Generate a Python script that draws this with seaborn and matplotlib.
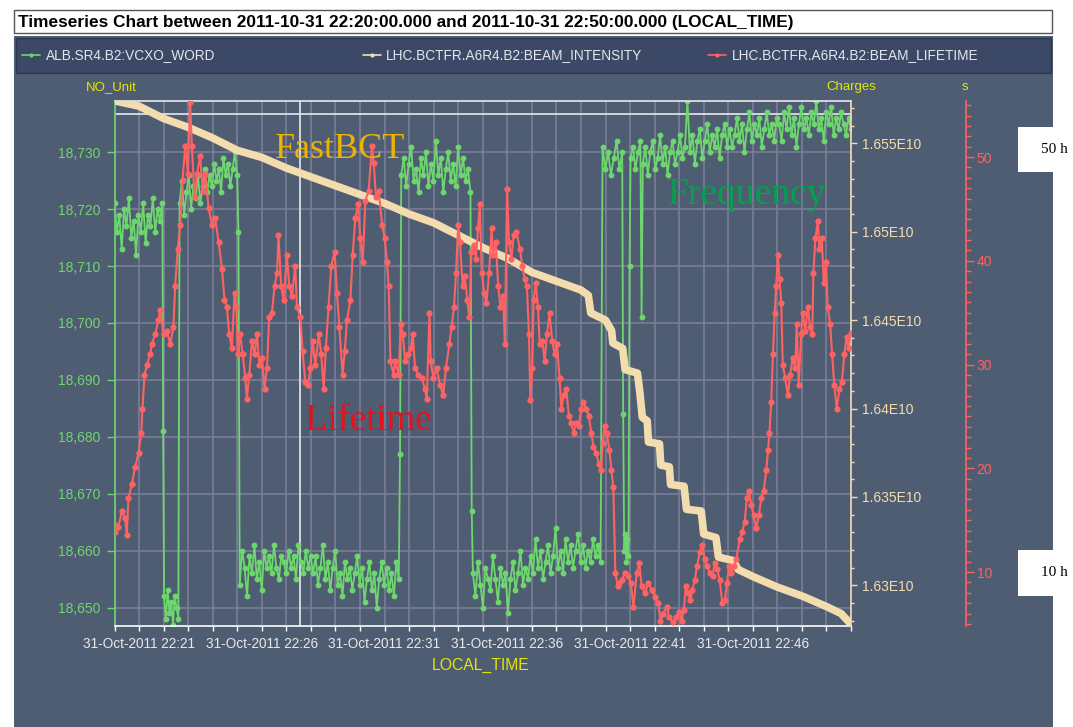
import numpy as np
import matplotlib
matplotlib.use("Agg")
import matplotlib.pyplot as plt
import seaborn as sns
from matplotlib.patches import Rectangle
from matplotlib.lines import Line2D
from matplotlib.ticker import FixedLocator, MultipleLocator, FuncFormatter

W, H = 1073, 727

# ---------------- data: time in minutes after 31-Oct-2011 22:20:00 ----------------

# ALB.SR4.B2:VCXO_WORD, logged in stretches (start, end) with the values read in each
vcxo_a = [18721, 18716, 18719, 18713, 18720, 18717, 18722, 18715, 18718, 18712, 18719,
          18716, 18721, 18714, 18719, 18717, 18722, 18716, 18720, 18718, 18721]
vcxo_b = [18681]
vcxo_c = [18652, 18648, 18653, 18649, 18651, 18647, 18652, 18650, 18648]
vcxo_d = [18721, 18725, 18719, 18723, 18726, 18720, 18724, 18722, 18726, 18721, 18724,
          18727, 18723, 18726, 18724, 18728, 18725, 18727, 18723, 18729, 18726, 18728,
          18724, 18727, 18730, 18726]
vcxo_e = [18716]
vcxo_f = [18654, 18660, 18657, 18652, 18659, 18656, 18661, 18655, 18658, 18653, 18660,
          18657, 18659, 18656, 18661, 18657, 18655, 18659, 18658, 18656, 18660, 18657,
          18659, 18655, 18661, 18658, 18656, 18660, 18657, 18659, 18656, 18659, 18654,
          18657, 18661, 18655, 18658, 18653, 18657, 18660, 18654, 18656, 18652, 18658,
          18655, 18657, 18653, 18656, 18659, 18654, 18657, 18651, 18655, 18658, 18653,
          18656, 18650, 18655, 18658, 18654, 18657, 18653, 18656, 18652, 18658, 18655]
vcxo_g = [18677]
vcxo_h = [18726, 18729, 18724, 18728, 18731, 18725, 18727, 18723, 18729, 18726, 18730,
          18724, 18728, 18725, 18732, 18726, 18729, 18723, 18727, 18730, 18725, 18728,
          18724, 18731, 18726, 18729, 18725, 18727, 18723]
vcxo_i = [18667]
vcxo_j = [18656, 18652, 18658, 18654, 18650, 18657, 18655, 18653, 18659, 18655, 18651,
          18657, 18654, 18656, 18649, 18655, 18658, 18653, 18656, 18660, 18654, 18657,
          18655, 18659, 18656, 18662, 18657, 18660, 18655, 18658, 18661, 18656, 18659,
          18664, 18657, 18660, 18656, 18662, 18658, 18661, 18657, 18660, 18663, 18658,
          18661, 18657, 18660, 18658, 18662, 18659, 18661, 18658]
vcxo_k = [18731, 18727, 18730, 18726, 18729, 18732, 18727, 18730]
vcxo_l = [18684, 18660, 18663, 18658, 18662, 18659, 18710]
vcxo_m = [18729, 18731, 18727, 18730, 18732]
vcxo_n = [18701]
vcxo_o = [18728, 18731, 18726, 18730, 18732, 18727, 18729, 18733, 18728, 18731, 18726,
          18730, 18732, 18728, 18730, 18733, 18729, 18731, 18739, 18730, 18733, 18728,
          18732, 18734, 18729, 18732, 18735, 18730, 18733, 18731, 18734, 18729, 18733,
          18735, 18731, 18734, 18731, 18733, 18736, 18732, 18735, 18730, 18734, 18737,
          18732, 18735, 18733, 18736, 18731, 18734, 18737, 18733, 18735, 18732, 18736,
          18735, 18732, 18737, 18734, 18738, 18733, 18736, 18731, 18735, 18738, 18734,
          18736, 18733, 18737, 18735, 18739, 18734, 18736, 18732, 18737, 18735, 18738,
          18733, 18736, 18734, 18737, 18735, 18733, 18736, 18734]
vcxo_spans = [(0.0, 1.95, vcxo_a), (1.98, 1.98, vcxo_b), (2.02, 2.60, vcxo_c),
              (2.65, 5.00, vcxo_d), (5.05, 5.05, vcxo_e), (5.10, 11.58, vcxo_f),
              (11.63, 11.63, vcxo_g), (11.68, 14.50, vcxo_h), (14.55, 14.55, vcxo_i),
              (14.60, 19.80, vcxo_j), (19.88, 20.68, vcxo_k), (20.72, 20.98, vcxo_l),
              (21.02, 21.42, vcxo_m), (21.47, 21.47, vcxo_n), (21.52, 30.0, vcxo_o)]

# LHC.BCTFR.A6R4.B2:BEAM_INTENSITY (charges)
intensity_t = [0, 1, 2, 3, 4, 5, 6, 7, 8, 9,
               10, 11, 12, 13, 14, 15, 16, 17, 18, 19,
               19.3, 19.4, 20.0, 20.25, 20.3, 20.7, 20.8, 21.3, 21.4, 21.5,
               21.7, 21.75, 22.2, 22.25, 22.6, 22.65, 23.2, 23.3, 23.9, 24.0,
               24.5, 24.6, 25.2, 25.4, 26, 27, 28, 29, 29.6, 30]
intensity_v = [1.6574e10, 1.6571e10, 1.6564e10, 1.6559e10, 1.6553e10, 1.6546e10, 1.6542e10, 1.6536e10, 1.6531e10, 1.6526e10,
               1.6521e10, 1.6516e10, 1.6510e10, 1.6505e10, 1.6498e10, 1.6491e10, 1.6485e10, 1.6477e10, 1.6472e10, 1.6467e10,
               1.6464e10, 1.6454e10, 1.6450e10, 1.6444e10, 1.6437e10, 1.6434e10, 1.6422e10, 1.6420e10, 1.6409e10, 1.6395e10,
               1.6393e10, 1.6381e10, 1.6380e10, 1.6368e10, 1.6367e10, 1.6357e10, 1.6356e10, 1.6343e10, 1.6342e10, 1.6329e10,
               1.6327e10, 1.6316e10, 1.6314e10, 1.6309e10, 1.6305e10, 1.6299e10, 1.6294e10, 1.6288e10, 1.6284e10, 1.6278e10]

# LHC.BCTFR.A6R4.B2:BEAM_LIFETIME (hours)
lifetime_t = [0.00, 0.03, 0.16, 0.30, 0.43, 0.50, 0.57, 0.71, 0.84, 0.98,
              1.09, 1.14, 1.22, 1.32, 1.45, 1.52, 1.66, 1.79, 1.86, 2.00,
              2.13, 2.27, 2.40, 2.47, 2.58, 2.68, 2.77, 2.88, 2.99, 3.08,
              3.15, 3.26, 3.36, 3.49, 3.59, 3.70, 3.83, 3.97, 4.10, 4.24,
              4.38, 4.48, 4.58, 4.67, 4.78, 4.89, 4.96, 5.03, 5.12, 5.22,
              5.33, 5.39, 5.49, 5.60, 5.71, 5.80, 5.90, 6.01, 6.11, 6.21,
              6.30, 6.41, 6.52, 6.62, 6.68, 6.79, 6.89, 7.02, 7.12, 7.23,
              7.36, 7.43, 7.57, 7.66, 7.77, 7.88, 7.98, 8.07, 8.18, 8.32,
              8.42, 8.52, 8.61, 8.72, 8.83, 8.97, 9.06, 9.16, 9.29, 9.38,
              9.47, 9.61, 9.70, 9.81, 9.92, 10.01, 10.11, 10.22, 10.35, 10.49,
              10.56, 10.65, 10.76, 10.90, 11.01, 11.10, 11.17, 11.24, 11.37, 11.43,
              11.57, 11.66, 11.74, 11.84, 11.97, 12.07, 12.15, 12.24, 12.38, 12.51,
              12.65, 12.72, 12.83, 12.88, 12.99, 13.12, 13.26, 13.39, 13.50, 13.64,
              13.73, 13.83, 13.91, 14.00, 14.07, 14.18, 14.27, 14.37, 14.45, 14.54,
              14.64, 14.72, 14.81, 14.88, 14.96, 15.06, 15.15, 15.26, 15.36, 15.42,
              15.53, 15.63, 15.72, 15.83, 15.90, 15.99, 16.07, 16.17, 16.26, 16.37,
              16.51, 16.61, 16.71, 16.80, 16.88, 16.94, 17.02, 17.07, 17.16, 17.25,
              17.32, 17.43, 17.52, 17.62, 17.72, 17.83, 17.93, 18.02, 18.13, 18.20,
              18.29, 18.40, 18.51, 18.60, 18.70, 18.81, 18.91, 19.01, 19.10, 19.21,
              19.32, 19.42, 19.51, 19.62, 19.73, 19.82, 19.89, 19.96, 20.05, 20.16,
              20.24, 20.32, 20.40, 20.50, 20.57, 20.66, 20.80, 20.93, 21.03, 21.14,
              21.27, 21.38, 21.47, 21.61, 21.74, 21.88, 22.01, 22.15, 22.24, 22.35,
              22.49, 22.60, 22.73, 22.87, 23.00, 23.10, 23.19, 23.27, 23.38, 23.46,
              23.54, 23.64, 23.73, 23.84, 23.95, 24.04, 24.14, 24.25, 24.36, 24.45,
              24.55, 24.65, 24.76, 24.86, 24.95, 25.03, 25.13, 25.22, 25.33, 25.47,
              25.57, 25.67, 25.76, 25.84, 25.94, 26.03, 26.14, 26.25, 26.35, 26.44,
              26.55, 26.62, 26.68, 26.75, 26.82, 26.89, 26.95, 27.02, 27.09, 27.16,
              27.22, 27.32, 27.43, 27.52, 27.63, 27.73, 27.79, 27.87, 27.97, 28.04,
              28.14, 28.24, 28.33, 28.42, 28.47, 28.55, 28.65, 28.71, 28.81, 28.89,
              28.98, 29.05, 29.15, 29.23, 29.32, 29.42, 29.53, 29.63, 29.73, 29.82,
              29.90, 29.98]
lifetime_h = [14.53, 13.88, 14.37, 15.85, 15.19, 13.55, 17.17, 18.48, 20.13, 21.44,
              23.42, 25.72, 29.01, 29.99, 30.98, 31.97, 32.95, 34.27, 35.26, 32.95,
              33.28, 31.97, 33.61, 37.56, 41.18, 43.48, 47.75, 51.04, 48.41, 55.32,
              51.04, 46.11, 48.41, 50.06, 46.77, 48.41, 45.12, 43.48, 44.14, 41.83,
              39.20, 36.24, 35.58, 32.95, 31.64, 36.90, 35.58, 30.98, 32.95, 30.98,
              28.68, 26.70, 29.01, 32.30, 30.98, 32.95, 29.99, 30.65, 27.69, 29.66,
              34.60, 34.93, 37.56, 38.87, 42.49, 37.56, 36.24, 40.52, 37.56, 36.57,
              39.53, 35.58, 34.60, 31.31, 28.35, 28.02, 29.66, 32.30, 29.99, 32.95,
              30.98, 27.69, 31.64, 35.58, 39.53, 40.85, 36.90, 33.61, 29.01, 31.31,
              34.27, 36.24, 40.52, 44.14, 45.45, 42.16, 39.86, 45.78, 46.77, 51.04,
              49.40, 46.11, 46.77, 43.48, 42.16, 39.86, 37.56, 30.32, 29.01, 30.32,
              29.01, 33.94, 32.95, 30.32, 30.98, 31.64, 32.95, 29.66, 29.01, 28.68,
              27.69, 26.70, 34.93, 30.32, 28.68, 29.66, 28.02, 27.03, 29.66, 31.97,
              33.61, 35.58, 38.87, 43.48, 41.83, 37.56, 38.54, 36.24, 34.60, 40.85,
              41.50, 40.19, 43.15, 45.45, 38.87, 36.90, 35.91, 38.87, 43.15, 40.52,
              41.83, 37.56, 35.58, 36.57, 31.97, 46.93, 41.83, 40.19, 42.49, 42.82,
              41.18, 39.53, 38.22, 37.56, 32.95, 26.54, 29.66, 36.24, 37.89, 35.58,
              31.97, 32.30, 30.32, 32.95, 34.93, 32.30, 30.98, 31.97, 28.68, 25.72,
              27.03, 27.69, 25.06, 24.40, 23.42, 24.40, 24.07, 25.72, 26.37, 25.72,
              25.06, 23.42, 22.10, 21.44, 20.45, 19.80, 22.43, 24.07, 23.42, 21.77,
              19.80, 18.15, 9.93, 8.61, 8.94, 9.27, 9.93, 9.60, 8.94, 6.64,
              9.93, 10.92, 8.61, 7.96, 8.94, 8.29, 7.63, 6.97, 5.33, 5.99,
              6.64, 5.66, 5.16, 5.66, 6.15, 5.33, 6.31, 8.61, 7.96, 7.30,
              8.29, 9.27, 10.59, 11.90, 12.56, 11.25, 10.59, 9.93, 9.60, 10.92,
              10.26, 9.27, 6.97, 7.30, 8.94, 10.59, 9.93, 10.59, 11.25, 13.22,
              13.88, 14.86, 17.17, 17.82, 16.51, 15.52, 14.21, 15.52, 17.17, 17.82,
              19.80, 21.77, 23.42, 26.37, 30.98, 34.93, 37.56, 40.52, 38.22, 35.91,
              29.99, 28.68, 27.03, 29.01, 30.65, 29.66, 33.94, 28.02, 32.95, 34.93,
              33.28, 35.58, 33.61, 32.95, 38.87, 42.16, 43.81, 41.18, 42.16, 37.89,
              39.86, 35.58, 33.94, 30.98, 28.02, 25.72, 27.69, 28.35, 30.98, 32.62,
              31.64, 33.00]

x_label_minutes = [1, 6, 11, 16, 21, 26]
legend_names = ["ALB.SR4.B2:VCXO_WORD", "LHC.BCTFR.A6R4.B2:BEAM_INTENSITY",
                "LHC.BCTFR.A6R4.B2:BEAM_LIFETIME"]

# ---------------- style ----------------
sns.set_style("ticks")
plt.rcParams['font.family'] = ['Liberation Sans', 'DejaVu Sans']

GREEN = '#6ed66e'
BEIGE = '#f3dcae'
RED = '#ff6262'
PANEL = '#4f5d72'
STRIP = '#3c4966'
GRID = '#7e7f9d'
YELLOW = '#e6e600'


def fx(px):
    return px / W


def fy(py):
    return 1 - py / H


vcxo_t, vcxo_v = [], []
for t0, t1, vals in vcxo_spans:
    vcxo_t += list(np.linspace(t0, t1, len(vals)))
    vcxo_v += list(vals)

fig = plt.figure(figsize=(W / 100, H / 100), dpi=100)
fig.patch.set_facecolor('white')

# frames: title box, dark panel, legend strip (behind the axes)
fig.patches.append(Rectangle((fx(14), fy(33)), fx(1052) - fx(14), fy(10) - fy(33),
                             transform=fig.transFigure, facecolor='white',
                             edgecolor='#555555', lw=1, zorder=-5))
fig.patches.append(Rectangle((fx(14), 0), fx(1053) - fx(14), fy(36),
                             transform=fig.transFigure, facecolor=PANEL,
                             edgecolor='none', zorder=-5))
fig.patches.append(Rectangle((fx(16), fy(73)), fx(1051) - fx(16), fy(38) - fy(73),
                             transform=fig.transFigure, facecolor=STRIP,
                             edgecolor='#2c3750', lw=1, zorder=-4))

fig.text(fx(18), fy(22), "Timeseries Chart between 2011-10-31 22:20:00.000 and "
         "2011-10-31 22:50:00.000 (LOCAL_TIME)", fontsize=12.4, fontweight='bold',
         va='center', ha='left', color='black')

# legend
for (x0, x1, xt), col, name in zip([(22, 40, 46), (363, 381, 386), (708, 726, 732)],
                                   [GREEN, BEIGE, RED], legend_names):
    fig.lines.append(Line2D([fx(x0), fx(x1)], [fy(55), fy(55)], transform=fig.transFigure,
                            color=col, lw=1.2))
    fig.lines.append(Line2D([fx((x0 + x1) / 2)], [fy(55)], transform=fig.transFigure,
                            color=col, marker='o', ms=3, mew=0))
    fig.text(fx(xt), fy(55), name, fontsize=9.8, color='#e4e4ec', va='center', ha='left')

# axes
left, right, top, bottom = 114.5, 851, 101, 626
ax = fig.add_axes([fx(left), fy(bottom), fx(right) - fx(left), fy(top) - fy(bottom)])
ax.set_facecolor(PANEL)
ax2 = ax.twinx()
ax3 = ax.twinx()

sns.lineplot(x=vcxo_t, y=vcxo_v, ax=ax, color=GREEN, marker='o', markersize=4.2,
             markeredgewidth=0, linewidth=1.3, estimator=None, sort=False, legend=False)
sns.lineplot(x=intensity_t, y=intensity_v, ax=ax2, color=BEIGE, linewidth=5.5,
             estimator=None, sort=False, legend=False, solid_capstyle='round')
sns.lineplot(x=lifetime_t, y=lifetime_h, ax=ax3, color=RED, marker='o', markersize=4.5,
             markeredgewidth=0, linewidth=1.5, estimator=None, sort=False, legend=False)

ax.set_xlim(0, 30)
ax.set_ylim(18646.75, 18739.0)
ax2.set_ylim(1.62770e10, 1.65739e10)
ax3.set_ylim(4.8, 55.4)

# x axis
ax.xaxis.set_major_locator(FixedLocator(list(range(0, 31))))
ax.xaxis.set_major_formatter(FuncFormatter(
    lambda v, p: f"31-Oct-2011 22:{20 + int(round(v)):02d}"
    if int(round(v)) in x_label_minutes else ""))
ax.tick_params(axis='x', colors='white', labelcolor='#e8e8e8', length=3.6, width=1,
               labelsize=9.8, pad=4)

# left axis
ax.yaxis.set_major_locator(MultipleLocator(10))
ax.yaxis.set_major_formatter(FuncFormatter(lambda v, p: f"{int(round(v)):,}"))
ax.tick_params(axis='y', colors=GREEN, length=5.8, width=1, labelsize=10, pad=4.3)

# charges axis
ax2.yaxis.set_major_locator(MultipleLocator(0.005e10))
ax2.yaxis.set_minor_locator(MultipleLocator(0.001e10))
ax2.yaxis.set_major_formatter(FuncFormatter(
    lambda v, p: f"{v / 1e10:.3f}".rstrip('0').rstrip('.') + "E10"))
ax2.yaxis.get_offset_text().set_visible(False)
ax2.tick_params(axis='y', which='major', colors=BEIGE, length=4.5, width=1,
                labelsize=10, pad=3.5)
ax2.tick_params(axis='y', which='minor', colors=BEIGE, length=2.5, width=1)

# lifetime axis
ax3.spines['right'].set_position(('outward', (966.5 - right) * 72 / 100))
ax3.yaxis.set_major_locator(MultipleLocator(10))
ax3.yaxis.set_minor_locator(MultipleLocator(1))
ax3.tick_params(axis='y', which='major', colors=RED, length=5.8, width=1,
                labelsize=10, pad=1.5)
ax3.tick_params(axis='y', which='minor', colors=RED, length=3.6, width=1)

for a in (ax, ax2, ax3):
    a.set_xlabel('')
    a.set_ylabel('')

ax.spines['left'].set_color(GREEN)
ax.spines['bottom'].set_color('white')
ax.spines['top'].set_color('#e8e8f0')
ax.spines['right'].set_visible(False)
for a in (ax2, ax3):
    for s in ('left', 'top', 'bottom'):
        a.spines[s].set_visible(False)
ax2.spines['right'].set_color(BEIGE)
ax3.spines['right'].set_color(RED)
for a in (ax, ax2, ax3):
    for s in a.spines.values():
        s.set_linewidth(1.2)

ax.set_axisbelow(True)
ax.grid(True, color=GRID, linewidth=1.1)
ax.axhline(18736.8, color='#e8e8f0', lw=1.2, zorder=1.5)
ax.axvline(7.57, color='#e8e8f0', lw=1.2, zorder=1.5)

# axis titles
fig.text(fx(86), fy(87), "NO_Unit", fontsize=9.5, color=YELLOW, va='center', ha='left')
fig.text(fx(826), fy(87), "Charges", fontsize=9.5, color=YELLOW, va='center', ha='left')
fig.text(fx(965), fy(87), "s", fontsize=9.5, color=YELLOW, va='center', ha='center')
fig.text(fx(481), fy(665), "LOCAL_TIME", fontsize=11.3, color=YELLOW, va='center',
         ha='center')

# annotations
serif = ['Liberation Serif', 'DejaVu Serif']
fig.text(fx(275), fy(158), "FastBCT", fontsize=26, color='#f0b400', family=serif,
         va='baseline', ha='left', zorder=5)
fig.text(fx(305), fy(430), "Lifetime", fontsize=26.5, color='#e8101a', family=serif,
         va='baseline', ha='left', zorder=5)
fig.text(fx(668), fy(204), "Frequency", fontsize=27, color='#00a34c', family=serif,
         va='baseline', ha='left', zorder=5)

for y0, y1, label in [(127, 172, "50 h"), (550, 596, "10 h")]:
    fig.patches.append(Rectangle((fx(1018), fy(y1)), fx(1073) - fx(1018), fy(y0) - fy(y1),
                                 transform=fig.transFigure, facecolor='white',
                                 edgecolor='none', zorder=4))
    fig.text(fx(1054), fy((y0 + y1) / 2), label, fontsize=11, color='black',
             family=serif, va='center', ha='center', zorder=5)

fig.savefig("out.png", dpi=100)
